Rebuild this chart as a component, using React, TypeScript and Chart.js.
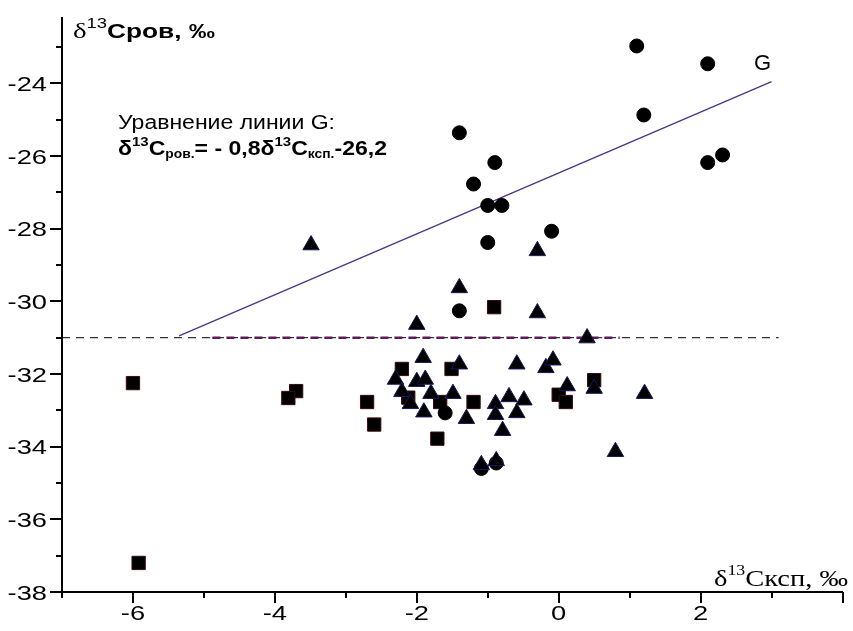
import { useEffect, useRef } from 'react';
import { Chart, registerables } from 'chart.js';

Chart.register(...registerables);

// δ13C of dispersed organic matter vs δ13C of carbonates
const circleX = [1.10, 2.10, 1.20, -1.40, -0.90, -1.20, -1.00, -0.80, -1.00, -0.10, 2.10, 2.31, -1.40, -1.60, -1.09, -0.88];
const circleY = [-22.97, -23.46, -24.87, -25.36, -26.18, -26.77, -27.36, -27.36, -28.38, -28.07, -26.18, -25.97, -30.26, -33.07, -34.60, -34.45];

const squareX = [-6.00, -5.92, -3.70, -3.81, -2.70, -2.60, -2.21, -1.71, -1.51, -1.20, -2.12, -1.67, 0.50, 0.00, 0.10, -0.91];
const squareY = [-32.25, -37.20, -32.47, -32.66, -32.77, -33.39, -31.86, -33.78, -31.86, -32.77, -32.65, -32.77, -32.17, -32.57, -32.77, -30.16];

const triangleX = [-3.49, -1.40, -2.00, -1.91, -1.40, -2.30, -2.00, -1.88, -0.30, -0.30, 0.40, -0.59, -0.18, -0.08, -2.21, -1.80, -1.49, 0.12, 0.50, 1.21, -2.09, -1.90, -1.30, -0.89, -0.70, -0.49, -0.89, -0.59, -0.79, -0.88, -1.09, 0.80];
const triangleY = [-28.45, -29.63, -30.64, -31.55, -31.73, -32.15, -32.21, -32.15, -28.61, -30.32, -31.01, -31.73, -31.83, -31.62, -32.49, -32.54, -32.54, -32.33, -32.40, -32.54, -32.82, -33.05, -33.23, -32.82, -32.63, -32.72, -33.12, -33.07, -33.56, -34.39, -34.50, -34.14];

// line G
const lineGX = [-5.35, 3.0];
const lineGY = [-30.95, -23.95];

// reference level
const refLevel = -31;
const refX = [-7, 3.1];
const refAccentX = [-4.88, 0.86];

const xRange = [-7, 4];
const yRange = [-38, -22.2];
const xTickLabels = [-6, -4, -2, 0, 2];
const yTickLabels = [-38, -36, -34, -32, -30, -28, -26, -24];

const pts = (xs: number[], ys: number[]) => xs.map((x, i) => ({ x, y: ys[i] }));

type Run = { text: string; font: string; dy?: number };

function drawRuns(ctx: CanvasRenderingContext2D, runs: Run[], x: number, y: number, width?: number, align: 'left' | 'right' | 'center' = 'left', stretch = 1) {
  let natural = 0;
  for (const r of runs) {
    ctx.font = r.font;
    natural += ctx.measureText(r.text).width;
  }
  const sx = width ? width / natural : stretch;
  const w = natural * sx;
  const start = align === 'right' ? x - w : align === 'center' ? x - w / 2 : x;
  ctx.save();
  ctx.translate(start, y);
  ctx.scale(sx, 1);
  let cx = 0;
  for (const r of runs) {
    ctx.font = r.font;
    ctx.fillText(r.text, cx, r.dy || 0);
    cx += ctx.measureText(r.text).width;
  }
  ctx.restore();
}

const SANS = '"Liberation Sans", Arial, sans-serif';
const SERIF = '"Liberation Serif", "Times New Roman", serif';
const TICK_FONT = `21px ${SANS}`;
const TICK_STRETCH = 1.3;

const axisMarks = {
  id: 'axisMarks',
  afterDraw(chart: any) {
    const ctx: CanvasRenderingContext2D = chart.ctx;
    const xs = chart.scales.x;
    const ys = chart.scales.y;
    const area = chart.chartArea;
    ctx.save();
    ctx.strokeStyle = '#000';
    ctx.lineWidth = 2;
    ctx.beginPath();
    for (let v = xRange[0]; v <= xRange[1]; v++) {
      const px = Math.round(xs.getPixelForValue(v));
      const len = v % 2 === 0 ? 11 : 6;
      ctx.moveTo(px, area.bottom);
      ctx.lineTo(px, area.bottom + len);
    }
    for (let v = yRange[0]; v <= yRange[1]; v++) {
      const py = Math.round(ys.getPixelForValue(v));
      const len = v % 2 === 0 ? 12 : 6;
      ctx.moveTo(area.left, py);
      ctx.lineTo(area.left - len, py);
    }
    ctx.stroke();

    ctx.fillStyle = '#000';
    ctx.textBaseline = 'alphabetic';
    ctx.textAlign = 'left';

    // tick labels
    for (const v of xTickLabels) {
      const px = xs.getPixelForValue(v);
      drawRuns(ctx, [{ text: String(v), font: TICK_FONT }], px, area.bottom + 28, undefined, 'center', TICK_STRETCH);
    }
    for (const v of yTickLabels) {
      const py = ys.getPixelForValue(v);
      drawRuns(ctx, [{ text: String(v), font: TICK_FONT }], area.left - 15, py + 7.5, undefined, 'right', TICK_STRETCH);
    }

    // y axis title
    drawRuns(ctx, [
      { text: 'δ', font: `22px ${SERIF}` },
      { text: '13', font: `14px ${SANS}`, dy: -10 },
      { text: 'Cров, ‰', font: `bold 20px ${SANS}` },
    ], 73, 38, 142);
    // x axis title
    drawRuns(ctx, [
      { text: 'δ', font: `24px ${SERIF}` },
      { text: '13', font: `15px ${SERIF}`, dy: -11 },
      { text: 'Cксп, ‰', font: `24px ${SERIF}` },
    ], 848, 586, 134, 'right');
    // equation of line G
    drawRuns(ctx, [{ text: 'Уравнение линии G:', font: `20px ${SANS}` }], 118, 129, 217);
    drawRuns(ctx, [
      { text: 'δ', font: `bold 20px ${SANS}` },
      { text: '13', font: `bold 13px ${SANS}`, dy: -9 },
      { text: 'C', font: `bold 20px ${SANS}` },
      { text: 'ров.', font: `bold 12px ${SANS}`, dy: 3 },
      { text: '= - 0,8δ', font: `bold 20px ${SANS}` },
      { text: '13', font: `bold 13px ${SANS}`, dy: -9 },
      { text: 'C', font: `bold 20px ${SANS}` },
      { text: 'ксп.', font: `bold 12px ${SANS}`, dy: 3 },
      { text: '-26,2', font: `bold 20px ${SANS}` },
    ], 118, 155, 269);
    // line label
    ctx.font = `22px ${SANS}`;
    ctx.fillText('G', 754, 70);
    ctx.restore();
  },
};

export default function App() {
  const ref = useRef<HTMLCanvasElement | null>(null);

  useEffect(() => {
    document.body.style.margin = '0';
    const canvas = ref.current;
    if (!canvas) return;
    const markerBase = { showLine: false, borderWidth: 1 };
    const chart = new Chart(canvas, {
      type: 'scatter',
      data: {
        datasets: [
          {
            ...markerBase,
            label: 'triangles',
            data: pts(triangleX, triangleY),
            pointStyle: 'triangle',
            pointRadius: 9.5,
            backgroundColor: '#000',
            borderColor: '#17195a',
          },
          {
            ...markerBase,
            label: 'circles',
            data: pts(circleX, circleY),
            pointStyle: 'circle',
            pointRadius: 7,
            backgroundColor: '#000',
            borderColor: '#000',
          },
          {
            ...markerBase,
            label: 'squares',
            data: pts(squareX, squareY),
            pointStyle: 'rect',
            pointRadius: 9.4,
            backgroundColor: '#000',
            borderColor: '#3b0a0a',
          },
          {
            label: 'G',
            type: 'line',
            data: pts(lineGX, lineGY),
            showLine: true,
            borderColor: '#4a3584',
            borderWidth: 1.3,
            pointRadius: 0,
          },
          {
            label: 'accent',
            type: 'line',
            data: refAccentX.map((x) => ({ x, y: refLevel })),
            showLine: true,
            borderColor: '#5e1a5a',
            borderWidth: 2.5,
            borderDash: [8, 6],
            pointRadius: 0,
          },
          {
            label: 'level',
            type: 'line',
            data: refX.map((x) => ({ x, y: refLevel })),
            showLine: true,
            borderColor: '#000',
            borderWidth: 1,
            borderDash: [8, 6],
            pointRadius: 0,
          },
        ],
      } as any,
      options: {
        responsive: false,
        animation: false,
        devicePixelRatio: 1,
        layout: { padding: { top: 18, right: 2, left: 0, bottom: 0 } },
        plugins: { legend: { display: false }, tooltip: { enabled: false } },
        scales: {
          x: {
            type: 'linear',
            min: xRange[0],
            max: xRange[1],
            grid: { display: false, drawTicks: false },
            border: { display: true, color: '#000', width: 2 },
            ticks: { display: false, stepSize: 1 },
            afterFit: (s: any) => { s.height = 39; },
          },
          y: {
            type: 'linear',
            min: yRange[0],
            max: yRange[1],
            grid: { display: false, drawTicks: false },
            border: { display: true, color: '#000', width: 2 },
            ticks: { display: false, stepSize: 1 },
            afterFit: (s: any) => { s.width = 62; },
          },
        },
      } as any,
      plugins: [axisMarks],
    });
    return () => chart.destroy();
  }, []);

  return <canvas ref={ref} width={853} height={631} style={{ display: 'block' }} />;
}
